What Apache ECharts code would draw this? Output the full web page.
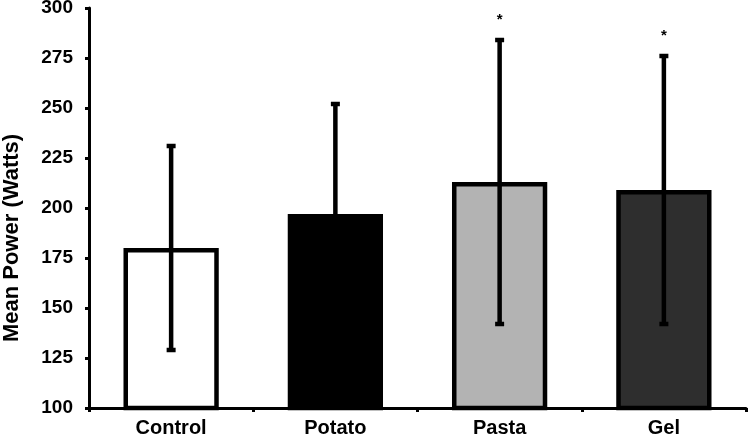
<!DOCTYPE html>
<html>
<head>
<meta charset="utf-8">
<script src="https://cdn.jsdelivr.net/npm/echarts@6/dist/echarts.min.js"></script>
<style>
  html, body { margin: 0; padding: 0; background: #fff; }
  #chart { width: 750px; height: 443px; }
</style>
</head>
<body>
<div id="chart"></div>
<script>
  // groups and values
  let categories = ['Control', 'Potato', 'Pasta', 'Gel']
  let meanPower = [180, 197, 213, 209]
  let sdPower = [51, 55, 71, 67]
  let signif = ['', '', '*', '*']
  let barColors = ['#ffffff', '#000000', '#b3b3b3', '#2e2e2e']

  let dom = document.getElementById('chart')
  let myChart = echarts.init(dom)

  let errData = categories.map((c, i) => [i, meanPower[i] - sdPower[i], meanPower[i] + sdPower[i], signif[i]])

  let option = {
    animation: false,
    textStyle: { fontFamily: 'Liberation Sans, Arial, sans-serif' },
    grid: {
      left: 89,
      right: 4,
      top: 8,
      bottom: 35,
      outerBoundsMode: 'none'
    },
    xAxis: {
      type: 'category',
      data: categories,
      axisLine: { lineStyle: { color: '#000', width: 3 } },
      axisTick: { show: true, length: 4, lineStyle: { color: '#000', width: 3 } },
      axisLabel: { color: '#000', fontWeight: 'bold', fontSize: 20, margin: 10 }
    },
    yAxis: {
      type: 'value',
      min: 100,
      max: 300,
      interval: 25,
      name: 'Mean Power (Watts)',
      nameLocation: 'middle',
      nameGap: 66,
      nameTextStyle: { color: '#000', fontWeight: 'bold', fontSize: 22, padding: [0, 60, 0, 0] },
      axisLine: { show: true, lineStyle: { color: '#000', width: 3 } },
      axisTick: { show: true, length: 4, lineStyle: { color: '#000', width: 3 } },
      axisLabel: { color: '#000', fontWeight: 'bold', fontSize: 19, margin: 16 },
      splitLine: { show: false }
    },
    series: [
      {
        type: 'bar',
        barWidth: '58%',
        data: meanPower.map((v, i) => ({
          value: v,
          itemStyle: { color: barColors[i] }
        })),
        itemStyle: { borderColor: '#000', borderWidth: 4.5 }
      },
      {
        type: 'custom',
        data: errData,
        z: 10,
        renderItem: function (params, api) {
          let x = api.value(0)
          let lo = api.coord([x, api.value(1)])
          let hi = api.coord([x, api.value(2)])
          let cap = 4.5
          let style = { stroke: '#000', lineWidth: 4.5 }
          let children = [
            { type: 'line', shape: { x1: lo[0], y1: lo[1], x2: hi[0], y2: hi[1] }, style: style },
            { type: 'line', shape: { x1: hi[0] - cap, y1: hi[1], x2: hi[0] + cap, y2: hi[1] }, style: style },
            { type: 'line', shape: { x1: lo[0] - cap, y1: lo[1], x2: lo[0] + cap, y2: lo[1] }, style: style }
          ]
          let mark = api.value(3)
          if (mark) {
            children.push({
              type: 'text',
              style: {
                text: '*',
                x: hi[0],
                y: hi[1] - 20,
                textAlign: 'center',
                textVerticalAlign: 'middle',
                fill: '#000',
                font: 'bold 15px Liberation Sans, Arial, sans-serif'
              }
            })
          }
          return { type: 'group', children: children }
        }
      }
    ]
  }

  myChart.setOption(option, true)
</script>
</body>
</html>
